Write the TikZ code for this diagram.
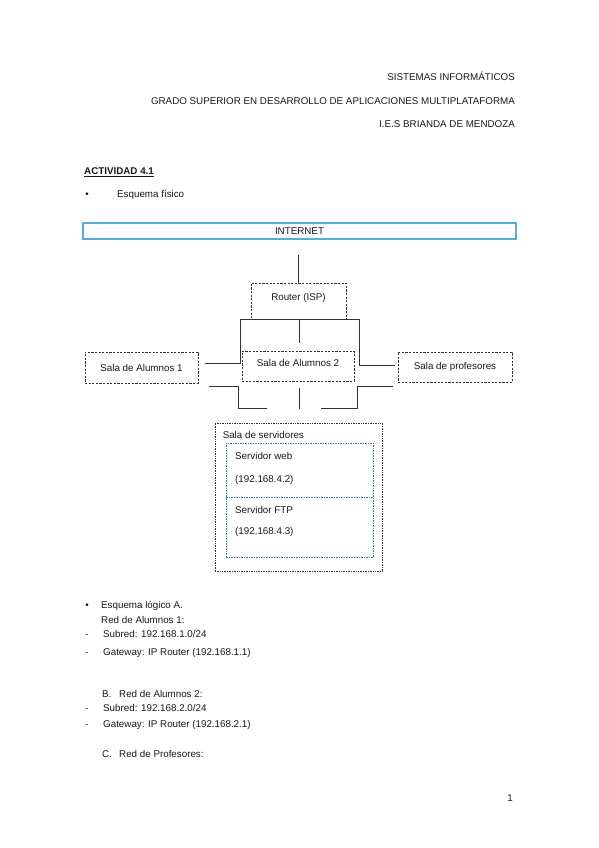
\documentclass[tikz,border=0pt]{standalone}
\usepackage{fontspec}
\setmainfont{Liberation Sans}
\usetikzlibrary{positioning}
\definecolor{netblue}{RGB}{84,172,226}
\definecolor{srvblue}{RGB}{52,124,178}
\definecolor{wiregray}{RGB}{50,50,50}
\definecolor{textcol}{RGB}{25,25,25}
\tikzset{
  txt/.style={inner sep=0pt, anchor=base west, text=textcol, font=\fontsize{9.8}{11}\selectfont},
  rtxt/.style={txt, anchor=base east},
  salabox/.style={draw=wiregray, line width=1pt, dash pattern=on 2.2pt off 1.4pt, inner sep=0pt, text=textcol, font=\fontsize{9.8}{11}\selectfont},
  srvbox/.style={draw=srvblue, line width=1pt, dash pattern=on 1.5pt off 1pt, inner sep=0pt},
  wire/.style={draw=wiregray, line width=1pt},
}
\begin{document}
\begin{tikzpicture}[x=1pt,y=-1pt]
\useasboundingbox (0,0) rectangle (599,848);
\fill[white] (0,0) rectangle (599,848);
  % Header
  \node[rtxt] (hdrA) at (515,81) {SISTEMAS INFORMÁTICOS};
  \node[rtxt] (hdrB) at (515,105) {GRADO SUPERIOR EN DESARROLLO DE APLICACIONES MULTIPLATAFORMA};
  \node[rtxt] (hdrC) at (515,128) {I.E.S BRIANDA DE MENDOZA};
  \node[txt, font=\fontsize{9.8}{11}\selectfont\bfseries] (act) at (84,174) {ACTIVIDAD 4.1};
  \draw[textcol, line width=0.6pt] ([yshift=-1.8pt]act.base west) -- ([yshift=-1.8pt]act.base east);
  \node[txt, anchor=base] (bulA) at (87,197) {•};
  \node[txt] (fisico) at (117,197) {Esquema físico};
  % Node: INTERNET
  \node[draw=netblue, line width=1.8pt, minimum width=433pt, minimum height=16pt, inner sep=0pt,
        text=textcol, font=\fontsize{9.8}{11}\selectfont] (internet) at (299.5,231) {INTERNET};
  % Node: Router
  \node[salabox, minimum width=95pt, minimum height=36pt, text height=7pt, text depth=9pt] (router) at (298.5,301) {Router (ISP)};
  % Node: Salas
  \node[salabox, minimum width=113pt, minimum height=31pt] (alum1) at (141.5,367.5) {Sala de Alumnos 1};
  \node[salabox, minimum width=112pt, minimum height=30pt, text height=7pt, text depth=6pt] (alum2) at (298,366) {Sala de Alumnos 2};
  \node[salabox, minimum width=114pt, minimum height=30pt] (prof) at (455,367) {Sala de profesores};
  % Edge: INTERNET -> Router
  \coordinate (upA) at (298.5,255);
  \draw[wire] (upA) -- (router.north);
  % Edge: Router -> Salas
  \coordinate (barL) at (240,319);
  \coordinate (barR) at (359,319);
  \draw[wire] (barL) -- (barR);
  \draw[wire] (barL) -- (240,363) -- (205,363);
  \draw[wire] (299,319) -- (299,343);
  \draw[wire] (barR) -- (359,365) -- (395,365);
  % Edge: Salas -> Sala de servidores
  \draw[wire] (209,386) -- (238,386) -- (238,408) -- (267,408);
  \draw[wire] (299,388) -- (299,409);
  \draw[wire] (393,386) -- (357,386) -- (357,408) -- (321,408);
  % Node: Sala de servidores
  \node[draw=wiregray, line width=0.9pt, dash pattern=on 1pt off 0.7pt, minimum width=167pt, minimum height=148pt, inner sep=0pt] (servers) at (298.5,497) {};
  \node[txt, anchor=north west] (srvlbl) at ([shift={(8,9)}]servers.north west) {Sala de servidores};
  \node[srvbox, minimum width=147pt, minimum height=54pt] (web) at (299.5,470) {};
  \node[srvbox, minimum width=147pt, minimum height=60pt] (ftp) at (299.5,527) {};
  \node[txt] (webA) at (235,459) {Servidor web};
  \node[txt] (webB) at (235,482) {(192.168.4.2)};
  \node[txt] (ftpA) at (235,513) {Servidor FTP};
  \node[txt] (ftpB) at (235,534) {(192.168.4.3)};
  % Esquema logico
  \node[txt, anchor=base] (bulB) at (87,608) {•};
  \node[txt] (logA) at (101,608) {Esquema lógico A.};
  \node[txt] (logB) at (101,623) {Red de Alumnos 1:};
  \node[txt] (dashA) at (85,637) {-};
  \node[txt] (subA) at (103,637) {Subred: 192.168.1.0/24};
  \node[txt] (dashB) at (85,655) {-};
  \node[txt] (gwA) at (103,655) {Gateway: IP Router (192.168.1.1)};
  \node[txt] (ltrB) at (102,697) {B.};
  \node[txt] (redB) at (119,697) {Red de Alumnos 2:};
  \node[txt] (dashC) at (85,711) {-};
  \node[txt] (subB) at (103,711) {Subred: 192.168.2.0/24};
  \node[txt] (dashD) at (85,727) {-};
  \node[txt] (gwB) at (103,727) {Gateway: IP Router (192.168.2.1)};
  \node[txt] (ltrC) at (102,757) {C.};
  \node[txt] (redC) at (119,757) {Red de Profesores:};
  \node[txt, anchor=base] (pagenum) at (510,801) {1};
\end{tikzpicture}
\end{document}
